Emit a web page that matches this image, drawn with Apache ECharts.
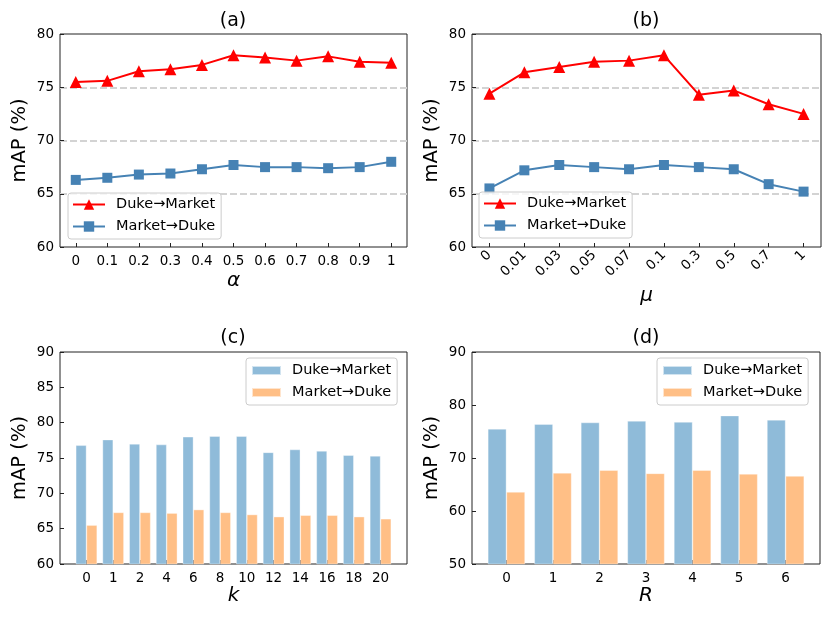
<!DOCTYPE html>
<html>
<head>
<meta charset="utf-8">
<script src="https://cdn.jsdelivr.net/npm/echarts@6/dist/echarts.min.js"></script>
<style>
html,body{margin:0;padding:0;background:#fff;}
#chart{width:830px;height:619px;}
</style>
</head>
<body>
<div id="chart"></div>
<script>
// ---- data ----
const alphaLabels = ['0','0.1','0.2','0.3','0.4','0.5','0.6','0.7','0.8','0.9','1'];
const alphaDuke = [75.5,75.6,76.5,76.7,77.1,78.0,77.8,77.5,77.9,77.4,77.3];
const alphaMarket = [66.3,66.5,66.8,66.9,67.3,67.7,67.5,67.5,67.4,67.5,68.0];

const muLabels = ['0','0.01','0.03','0.05','0.07','0.1','0.3','0.5','0.7','1'];
const muDuke = [74.4,76.4,76.9,77.4,77.5,78.0,74.3,74.7,73.4,72.5];
const muMarket = [65.5,67.2,67.7,67.5,67.3,67.7,67.5,67.3,65.9,65.2];

const kLabels = ['0','1','2','4','6','8','10','12','14','16','18','20'];
const kDuke = [76.8,77.6,77.0,76.9,78.0,78.1,78.1,75.8,76.2,76.0,75.4,75.3];
const kMarket = [65.5,67.3,67.3,67.2,67.7,67.3,67.0,66.7,66.9,66.9,66.7,66.4];

const rLabels = ['0','1','2','3','4','5','6'];
const rDuke = [75.5,76.4,76.7,77.0,76.8,78.0,77.2];
const rMarket = [63.6,67.2,67.7,67.1,67.7,67.0,66.6];

const seriesNames = ['Duke→Market','Market→Duke'];
const panelTitles = ['(a)','(b)','(c)','(d)'];
const yName = 'mAP (%)';

// ---- styles ----
const FONT = 'DejaVu Sans';
const FRAME = '#222';
const RED = '#ff0000', STEEL = '#4682b4';
const BLUE_BAR = '#8fbbd9', ORANGE_BAR = '#ffbf86';
const TICK_FS = 13.5;

const grids = [
  {left:60, top:34, width:347, height:213},
  {left:472, top:34, width:349, height:213},
  {left:60, top:352, width:347, height:212},
  {left:472, top:352, width:348, height:212}
].map(g => Object.assign({show:true, borderColor:FRAME, borderWidth:1, backgroundColor:'transparent'}, g));

function yAxis(gi, min, max, interval, grid) {
  return {
    type:'value', gridIndex:gi, min, max, interval,
    name:yName, nameLocation:'middle', nameGap:30,
    nameTextStyle:{fontFamily:FONT, fontSize:19.5, color:'#000'},
    axisLine:{show:false, onZero:false},
    axisTick:{show:true, inside:true, length:4, lineStyle:{color:FRAME}},
    axisLabel:{fontFamily:FONT, fontSize:TICK_FS, color:'#000', margin:6},
    splitLine: grid ? {show:true, showMinLine:false, showMaxLine:false,
      lineStyle:{color:'#d3d3d3', width:2, type:[7,3]}} : {show:false}
  };
}

const xName = (txt, gap) => ({
  name:txt, nameLocation:'middle', nameGap:gap,
  nameTextStyle:{fontFamily:FONT, fontSize:20, fontStyle:'italic', color:'#000'}
});

const xAxes = [
  Object.assign({type:'category', gridIndex:0, data:alphaLabels, boundaryGap:true,
    axisLine:{show:false, onZero:false},
    axisTick:{show:true, inside:true, length:4, alignWithLabel:true, lineStyle:{color:FRAME}},
    axisLabel:{fontFamily:FONT, fontSize:TICK_FS, color:'#000', margin:7}}, xName('α', 24)),
  Object.assign({type:'category', gridIndex:1, data:muLabels, boundaryGap:true,
    axisLine:{show:false, onZero:false},
    axisTick:{show:true, inside:true, length:4, alignWithLabel:true, lineStyle:{color:FRAME}},
    axisLabel:{fontFamily:FONT, fontSize:TICK_FS, color:'#000', margin:6, rotate:45}}, xName('μ', 39)),
  Object.assign({type:'value', gridIndex:2, min:-0.99, max:11.99,
    axisLine:{show:false, onZero:false}, splitLine:{show:false},
    axisTick:{show:true, inside:true, length:4, customValues:kLabels.map((_, i) => i), lineStyle:{color:FRAME}},
    axisLabel:{fontFamily:FONT, fontSize:TICK_FS, color:'#000', margin:7,
      customValues:kLabels.map((_, i) => i), formatter:v => kLabels[Math.round(v)]}}, xName('k', 20)),
  Object.assign({type:'value', gridIndex:3, min:-0.74, max:6.74,
    axisLine:{show:false, onZero:false}, splitLine:{show:false},
    axisTick:{show:true, inside:true, length:4, customValues:rLabels.map((_, i) => i), lineStyle:{color:FRAME}},
    axisLabel:{fontFamily:FONT, fontSize:TICK_FS, color:'#000', margin:7,
      customValues:rLabels.map((_, i) => i), formatter:v => rLabels[Math.round(v)]}}, xName('R', 21))
];

const yAxes = [
  yAxis(0, 60, 80, 5, true),
  yAxis(1, 60, 80, 5, true),
  yAxis(2, 60, 90, 5, false),
  yAxis(3, 50, 90, 10, false)
];

const tag = (p, n) => p + ':' + n;
const showName = n => n.split(':')[1];

function lineSeries(p, gi, name, data, color, symbol, size) {
  return {type:'line', name:tag(p, name), xAxisIndex:gi, yAxisIndex:gi, data,
    symbol, symbolSize:size, showSymbol:true,
    lineStyle:{color, width:2}, itemStyle:{color}, z:3};
}
function barSeries(p, gi, name, vals, color) {
  return {type:'bar', name:tag(p, name), xAxisIndex:gi, yAxisIndex:gi,
    data:vals.map((v, i) => [i, v]), barWidth:'40%', barGap:'0%',
    itemStyle:{color, borderColor:'rgba(255,255,255,0.6)', borderWidth:0.6}};
}

const series = [
  lineSeries('a', 0, seriesNames[0], alphaDuke, RED, 'triangle', 12),
  lineSeries('a', 0, seriesNames[1], alphaMarket, STEEL, 'rect', 10),
  lineSeries('b', 1, seriesNames[0], muDuke, RED, 'triangle', 12),
  lineSeries('b', 1, seriesNames[1], muMarket, STEEL, 'rect', 10),
  barSeries('c', 2, seriesNames[0], kDuke, BLUE_BAR),
  barSeries('c', 2, seriesNames[1], kMarket, ORANGE_BAR),
  barSeries('d', 3, seriesNames[0], rDuke, BLUE_BAR),
  barSeries('d', 3, seriesNames[1], rMarket, ORANGE_BAR)
];

function legend(p, left, top, isBar) {
  const l = {
    orient:'vertical', left, top,
    data:seriesNames.map(n => tag(p, n)),
    formatter:showName,
    itemWidth: isBar ? 29 : 32, itemHeight: isBar ? 9 : 13, itemGap:7,
    textStyle:{fontFamily:FONT, fontSize:14.5, color:'#000', padding:[0,0,0,6]},
    padding: isBar ? [5,6,5,5] : [4,6,5,4],
    borderColor:'#cccccc', borderWidth:1, borderRadius:3,
    backgroundColor:'rgba(255,255,255,0.8)',
    selectedMode:false
  };
  if (isBar) l.icon = 'rect';
  return l;
}

const titles = [
  {x:233, y:12}, {x:646, y:12}, {x:233, y:329}, {x:646, y:329}
].map((t, i) => ({text:panelTitles[i], left:t.x, top:t.y, textAlign:'center', padding:0,
  textStyle:{fontFamily:FONT, fontSize:19, fontWeight:'normal', color:'#000'}}));

const chart = echarts.init(document.getElementById('chart'), null, {renderer:'canvas'});
chart.setOption({
  animation:false,
  backgroundColor:'#fff',
  title:titles,
  grid:grids,
  xAxis:xAxes,
  yAxis:yAxes,
  legend:[legend('a', 68, 193, false), legend('b', 479, 192, false),
          legend('c', 246, 358, true), legend('d', 657, 358, true)],
  series
});
</script>
</body>
</html>
